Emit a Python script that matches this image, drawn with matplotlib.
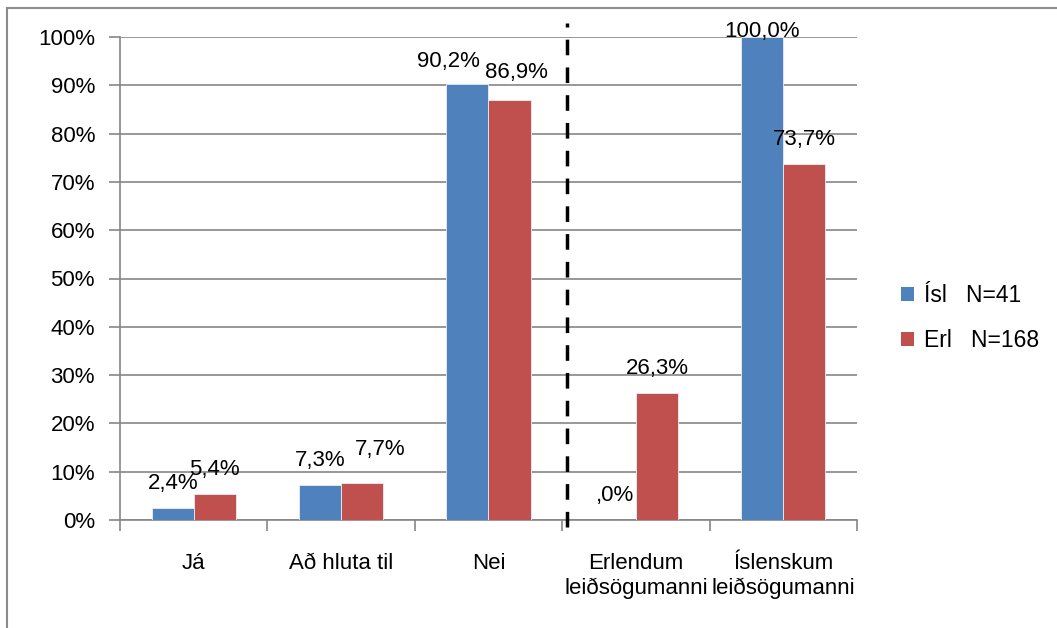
import numpy as np
import matplotlib.pyplot as plt
from matplotlib.patches import Patch, Rectangle

plt.rcParams['font.family'] = ['Liberation Sans', 'DejaVu Sans']

categories = ['Já', 'Að hluta til', 'Nei', 'Erlendum\nleiðsögumanni', 'Íslenskum\nleiðsögumanni']
isl = [2.4, 7.3, 90.2, 0.0, 100.0]
erl = [5.4, 7.7, 86.9, 26.3, 73.7]
series_names = ['Ísl   N=41', 'Erl   N=168']
colors = ['#4F81BD', '#C0504D']

# label nudges in pixels (dx, dy above bar top), Excel moved some to avoid overlap
nudge = {(0, 2): (-19, 17), (1, 2): (7, 22), (1, 1): (18, 28), (0, 4): (0, 0)}

fig = plt.figure(figsize=(10.57, 6.28), dpi=100)
ax = fig.add_axes([120 / 1057, 1 - 520 / 628, 737 / 1057, 483 / 628])

x = np.arange(len(categories))
w = 0.285
for si, vals in enumerate([isl, erl]):
    xs = x + (si - 0.5) * w
    ax.bar(xs, vals, w, color=colors[si], edgecolor='#e8eef7', linewidth=0.6, zorder=3)
    for ci, v in enumerate(vals):
        dx, dy = nudge.get((si, ci), (0, 19))
        lab = f'{v:.1f}'.replace('.', ',') + '%'
        if v == 0:
            lab = ',0%'
        ax.annotate(lab, (xs[ci], v), xytext=(dx, dy), textcoords='offset pixels',
                    ha='center', va='baseline', fontsize=16, zorder=5, annotation_clip=False)

ax.set_xlim(-0.5, len(categories) - 0.5)
ax.set_ylim(0, 100)
ax.set_yticks(np.arange(0, 101, 10))
ax.set_yticklabels([f'{t}%' for t in range(0, 101, 10)], fontsize=16)
ax.yaxis.grid(True, color='#868686', linewidth=1.2, zorder=0)
ax.set_xticks(x)
ax.set_xticklabels(categories, fontsize=16, linespacing=1.2)
ax.set_xticks(np.arange(-0.5, len(categories), 1), minor=True)
ax.tick_params(axis='x', which='major', length=0, pad=24)
ax.tick_params(axis='x', which='minor', length=8, color='#868686', width=1.2)
ax.tick_params(axis='y', length=8, color='#868686', width=1.2, pad=10)
for s in ['top', 'right']:
    ax.spines[s].set_visible(False)
for s in ['left', 'bottom']:
    ax.spines[s].set_color('#868686')
    ax.spines[s].set_linewidth(1.2)

ax.axvline(2.53, ymin=-0.0145, ymax=1.029, color='black', linewidth=2.5,
           linestyle=(0, (4.5, 3.5)), clip_on=False, zorder=6)

handles = [Patch(facecolor=c, edgecolor='none') for c in colors]
fig.legend(handles, series_names, loc='center left', bbox_to_anchor=(880 / 1057, 1 - 318 / 628),
           frameon=False, fontsize=16.5, handlelength=0.6, handleheight=0.6,
           handletextpad=0.4, labelspacing=0.95)

fig.patches.append(Rectangle((7 / 1057, -0.1), 1.2, 1.1 - 8 / 628, transform=fig.transFigure,
                             fill=False, edgecolor='#8c8c8c', linewidth=1.5))

fig.savefig('out.png', dpi=100)
